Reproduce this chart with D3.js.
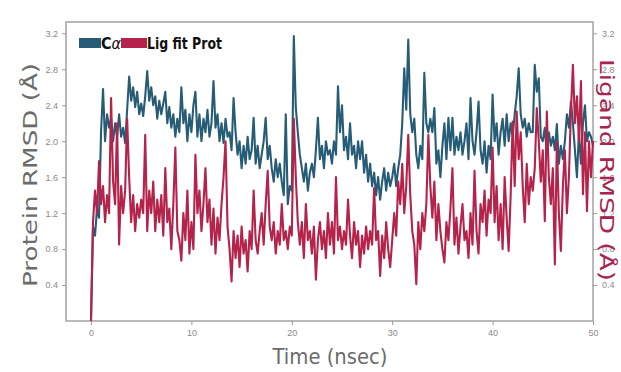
<!DOCTYPE html>
<html>
<head>
<meta charset="utf-8">
<script src="https://cdn.jsdelivr.net/npm/d3@7"></script>
<style>
  body { margin: 0; background: #fff; }
  svg { display: block; font-family: "DejaVu Sans", sans-serif; }
</style>
</head>
<body>
<svg id="chart" width="621" height="372"></svg>
<script>
// sample spacing of the trajectory (nsec)
const timeStep = 0.2;

// C-alpha RMSD, one row per nsec (5 samples each), last value at 50 ns
const caRmsd = [
  0.0, 1.05, 0.95, 1.25, 1.15,
  2.1, 2.58, 2.0, 2.3, 2.15,
  2.25, 2.0, 2.2, 2.05, 2.3,
  2.05, 2.15, 1.98, 2.35, 2.72,
  2.45, 2.6, 2.38, 2.55, 2.3,
  2.42, 2.28, 2.5, 2.78, 2.45,
  2.6, 2.4, 2.5, 2.25, 2.45,
  2.3, 2.42, 2.55, 2.2, 2.38,
  2.15, 2.3, 2.05, 2.25, 2.1,
  2.6, 2.2, 2.35, 2.0, 2.3,
  2.1, 2.4, 2.55, 2.05, 2.3,
  2.0, 2.25, 2.1, 2.35, 2.05,
  2.2, 2.67, 2.15, 2.3, 2.0,
  2.2, 1.98, 2.25, 2.05, 2.1,
  1.9, 2.48, 2.1, 1.85, 2.0,
  1.7, 1.95, 1.75, 2.05, 1.8,
  1.9, 2.26, 1.75, 1.95, 1.7,
  1.85, 2.0, 2.26, 1.8, 1.95,
  1.7, 1.55, 1.8, 1.6, 1.75,
  1.55, 1.4, 2.3, 1.3, 1.5,
  1.45, 3.17, 2.37, 2.1, 1.85,
  1.7, 1.55, 1.75, 1.45, 1.65,
  1.75, 1.6, 1.9, 2.26, 1.8,
  1.95, 1.7, 2.0, 1.85, 1.9,
  1.75, 2.0, 1.85, 2.61, 2.1,
  2.4, 1.9, 2.05, 1.8, 2.2,
  1.85, 1.95, 1.7, 2.0, 1.8,
  2.0, 1.65, 1.85, 1.55, 1.75,
  1.5, 1.65, 1.4, 1.6, 1.35,
  1.55, 1.7, 1.45, 1.65, 1.5,
  1.6, 1.75, 1.5, 1.7, 1.85,
  2.2, 2.81, 2.35, 3.13, 2.3,
  2.1, 2.25, 1.85, 1.7, 1.95,
  1.8, 2.76, 2.2, 2.1, 2.25,
  2.1, 2.37, 1.75, 1.9, 1.6,
  1.95, 2.2, 1.8, 2.26, 1.9,
  2.26, 1.85, 2.05, 1.9, 2.1,
  1.85, 2.0, 2.2, 1.8, 2.48,
  2.0, 1.85, 2.1, 2.44, 1.9,
  1.75, 2.0, 1.65, 1.95, 1.8,
  2.52, 2.0, 2.2, 1.85, 2.1,
  2.25, 1.95, 2.3, 2.0, 2.2,
  2.05, 2.3, 2.5, 2.81, 2.3,
  2.15, 2.25, 2.05, 2.2, 2.1,
  2.1, 2.85, 2.55, 2.7, 2.05,
  2.0, 2.15, 1.85, 2.1, 1.95,
  2.05, 1.9, 2.19, 1.75, 1.95,
  1.8, 2.0, 2.3, 2.15, 2.44,
  2.2, 1.9, 1.6, 2.1, 1.75,
  2.2, 2.4, 2.0, 2.1, 2.05,
  1.95
];

// ligand RMSD (fit on protein), same sampling
const ligRmsd = [
  0.0, 1.1, 1.45, 1.2, 1.78,
  1.3, 1.5, 1.1, 1.4, 1.2,
  2.48, 1.55, 1.3, 2.2, 0.85,
  1.5, 1.2, 1.45, 2.25, 1.6,
  1.1, 1.4, 1.0, 1.3, 1.15,
  1.35, 1.2, 2.07, 1.0, 1.45,
  1.2, 1.55, 1.0, 1.35, 1.1,
  1.4, 0.95, 1.7, 1.1, 1.25,
  0.8, 1.3, 1.93, 1.0, 0.9,
  0.67, 1.2, 0.9, 1.45, 0.75,
  1.1, 0.8, 1.85, 1.2, 1.45,
  1.0, 1.3, 1.7, 1.1, 1.35,
  0.85, 1.25, 0.75, 1.15, 0.9,
  1.3, 1.6, 2.0, 1.05, 0.8,
  0.44, 1.0, 0.7, 0.95, 0.6,
  1.05, 0.75, 0.9, 0.55, 1.0,
  0.8, 1.45, 0.9, 0.75, 1.0,
  1.2, 0.85, 1.3, 1.67, 1.05,
  0.9, 1.1, 0.75, 1.0, 0.85,
  1.3, 0.9, 1.0, 0.8, 1.05,
  0.95, 2.25, 1.6, 1.1, 0.85,
  1.1, 0.7, 1.3, 0.9, 1.0,
  0.75, 1.05, 0.46, 0.9, 1.1,
  0.8, 1.0, 0.7, 1.2, 0.85,
  1.1, 0.75, 1.6, 0.9, 1.05,
  0.8, 1.0, 0.85, 1.35, 0.95,
  0.7, 1.1, 0.85, 1.0, 0.6,
  0.95, 0.75, 1.05, 0.8, 1.0,
  0.85, 1.48, 0.9, 1.0, 0.5,
  0.95, 0.7, 1.1, 0.8, 0.6,
  0.9, 1.2, 0.95, 1.55, 1.3,
  1.75, 1.2, 1.5, 2.07, 1.4,
  1.0, 0.85, 0.41, 1.1, 0.8,
  1.2, 1.0, 1.3, 2.07, 1.5,
  1.15, 1.55, 0.9, 1.3, 1.0,
  0.8, 0.65, 1.1, 0.9, 1.25,
  1.7, 0.85, 1.15, 0.75, 1.05,
  1.3, 0.9, 1.0, 0.7, 1.2,
  0.85, 1.67, 1.0, 0.75, 1.3,
  1.1, 1.45, 0.95, 1.35, 1.2,
  1.93, 1.1, 1.5, 0.9, 1.3,
  0.8, 1.6, 1.15, 0.78, 1.4,
  2.22, 1.5, 2.33, 1.8, 2.1,
  1.5, 1.1, 1.75, 1.3, 1.6,
  1.45, 1.7, 2.37, 2.0, 1.55,
  1.9, 1.11, 2.33, 1.6, 1.3,
  1.7, 0.63, 2.0, 1.2, 0.78,
  1.5, 1.9, 1.2, 1.6, 2.33,
  2.85, 2.2, 2.5, 2.0, 2.67,
  1.41, 2.1, 1.22, 2.0, 1.6,
  2.0
];

const xTicks = [0, 10, 20, 30, 40, 50];
const yTicks = [0.4, 0.8, 1.2, 1.6, 2.0, 2.4, 2.8, 3.2];
const legendLabels = ["C\u03b1", "Lig fit Prot"];

const blue = "#275c77";
const red = "#b5224a";

const margin = {top: 22, right: 28, bottom: 51, left: 66};
const width = 621, height = 372;

const svg = d3.select("#chart");

const x = d3.scaleLinear()
  .domain([-2.49, 50])
  .range([margin.left, width - margin.right]);
const y = d3.scaleLinear()
  .domain([0, 3.326])
  .range([height - margin.bottom, margin.top]);

// frame
svg.append("rect")
  .attr("x", margin.left)
  .attr("y", margin.top)
  .attr("width", width - margin.right - margin.left)
  .attr("height", height - margin.bottom - margin.top)
  .attr("fill", "none")
  .attr("stroke", "#a3a3a3")
  .attr("stroke-width", 1.5);

function styleAxis(g) {
  g.select(".domain").remove();
  g.selectAll(".tick line").attr("stroke", "#999");
  g.selectAll(".tick text")
    .attr("fill", "#8a8a8a")
    .style("font-size", "9px");
}

svg.append("g")
  .attr("transform", `translate(0,${height - margin.bottom})`)
  .call(d3.axisBottom(x).tickValues(xTicks).tickSize(4).tickPadding(5))
  .call(styleAxis);

svg.append("g")
  .attr("transform", `translate(${margin.left},0)`)
  .call(d3.axisLeft(y).tickValues(yTicks).tickFormat(d3.format(".1f")).tickSize(4).tickPadding(4))
  .call(styleAxis);

svg.append("g")
  .attr("transform", `translate(${width - margin.right},0)`)
  .call(d3.axisRight(y).tickValues(yTicks).tickFormat(d3.format(".1f")).tickSize(4).tickPadding(5))
  .call(styleAxis);

// lines
const line = d3.line()
  .x((d, i) => x(i * timeStep))
  .y(d => y(d));

svg.append("path")
  .datum(caRmsd)
  .attr("d", line)
  .attr("fill", "none")
  .attr("stroke", blue)
  .attr("stroke-width", 2.1)
  .attr("stroke-linejoin", "round");

svg.append("path")
  .datum(ligRmsd)
  .attr("d", line)
  .attr("fill", "none")
  .attr("stroke", red)
  .attr("stroke-width", 2.1)
  .attr("stroke-linejoin", "round");

// axis titles
svg.append("text")
  .attr("x", 330)
  .attr("y", 364)
  .attr("text-anchor", "middle")
  .attr("fill", "#6b6b6b")
  .attr("textLength", 115)
  .attr("lengthAdjust", "spacingAndGlyphs")
  .style("font-size", "22px")
  .text("Time (nsec)");

svg.append("text")
  .attr("transform", "translate(37,175) rotate(-90)")
  .attr("text-anchor", "middle")
  .attr("fill", "#6b6b6b")
  .attr("textLength", 224)
  .attr("lengthAdjust", "spacingAndGlyphs")
  .style("font-size", "19px")
  .text("Protein RMSD (\u00c5)");

svg.append("text")
  .attr("transform", "translate(600,170) rotate(90)")
  .attr("text-anchor", "middle")
  .attr("fill", "#a8234f")
  .attr("textLength", 222)
  .attr("lengthAdjust", "spacingAndGlyphs")
  .style("font-size", "19px")
  .text("Ligand RMSD (\u00c5)");

// legend
const legend = svg.append("g");
legend.append("rect")
  .attr("x", 79).attr("y", 38).attr("width", 22).attr("height", 10)
  .attr("fill", blue);
legend.append("text")
  .attr("x", 101).attr("y", 48.5)
  .attr("fill", "#111")
  .attr("textLength", 20)
  .attr("lengthAdjust", "spacingAndGlyphs")
  .style("font-size", "15px")
  .style("font-weight", "bold")
  .html('C<tspan font-style="italic" font-weight="normal">\u03b1</tspan>');
legend.append("rect")
  .attr("x", 121).attr("y", 38).attr("width", 26).attr("height", 10)
  .attr("fill", red);
legend.append("text")
  .attr("x", 147).attr("y", 48.5)
  .attr("fill", "#111")
  .attr("textLength", 75)
  .attr("lengthAdjust", "spacingAndGlyphs")
  .style("font-size", "15px")
  .style("font-weight", "bold")
  .text(legendLabels[1]);
</script>
</body>
</html>
